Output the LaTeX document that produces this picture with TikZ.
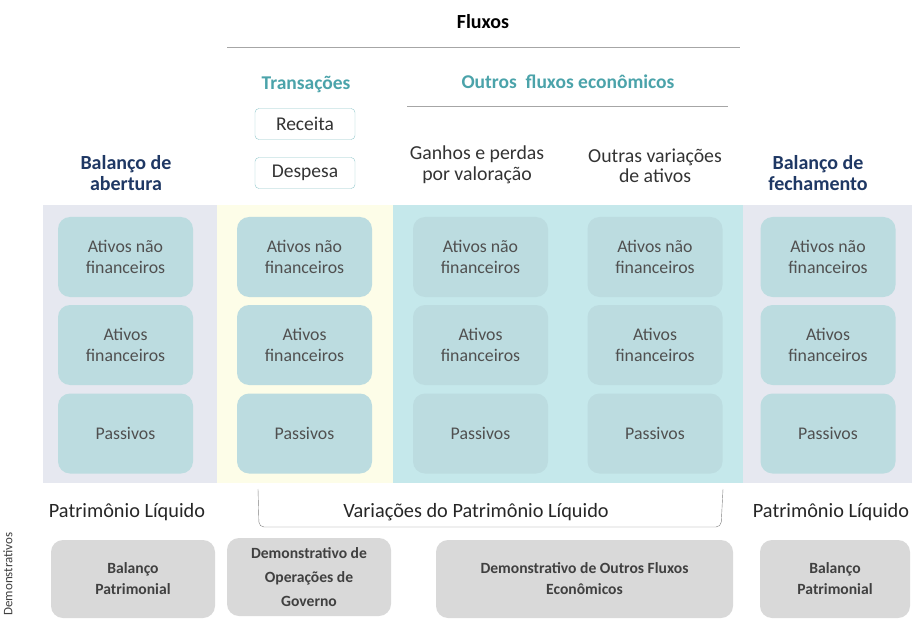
\documentclass[tikz,border=0pt]{standalone}
\usepackage{fontspec}
\setmainfont{Carlito}
\definecolor{bandgray}{HTML}{E6E8F0}
\definecolor{bandyel}{HTML}{FDFDE8}
\definecolor{bandcyan}{HTML}{C5E8EB}
\definecolor{boxfill}{HTML}{BCDCE0}
\definecolor{grayfill}{HTML}{D9D9D9}
\definecolor{navy}{HTML}{1F3864}
\definecolor{teal2}{HTML}{4BA3AA}
\definecolor{txt}{HTML}{505050}
\tikzset{
  acct/.style={fill=boxfill, rounded corners=12pt, minimum width=135pt, minimum height=80pt,
    text=txt, align=center, font=\fontsize{17.8}{21}\selectfont},
  demo/.style={fill=grayfill, rounded corners=12pt, minimum height=78pt,
    text=black!75, align=center, font=\fontsize{15.6}{21}\selectfont\bfseries},
  head/.style={text=navy, align=center, font=\fontsize{20}{21}\selectfont\bfseries},
  flow/.style={text=black!80, align=center, font=\fontsize{19.8}{20.5}\selectfont},
  trans/.style={draw=teal2!60, fill=white, rounded corners=4pt, minimum width=100pt,
    minimum height=31pt, text=black!80, font=\fontsize{19.5}{20}\selectfont},
  pl/.style={text=black!85, font=\fontsize{20.3}{22}\selectfont}
}
\begin{document}
\begin{tikzpicture}[x=1pt,y=-1pt]
                \useasboundingbox (0,0) rectangle (912,620);
                % bands
                \fill [bandgray] (43,205) rectangle (217,483) ;
                \fill [bandyel] (217,205) rectangle (393,483) ;
                \fill [bandcyan] (393,205) rectangle (743,483) ;
                \fill [bandgray] (743,205) rectangle (912,483) ;
                % titles
                \node [font=\fontsize{20}{20}\selectfont\bfseries] (fluxos) at (483,22) {Fluxos} ;
                \draw [gray!70, line width=1pt] (227,48) -- (740,48) ;
                \node [text=teal2, font=\fontsize{19.5}{20}\selectfont\bfseries] (transacoes) at (306,84) {Transações} ;
                \node [text=teal2, font=\fontsize{19.5}{20}\selectfont\bfseries] (outros) at (568,82) {Outros \ fluxos econômicos} ;
                \draw [gray!70, line width=1pt] (407,107) -- (728,107) ;
                \node [trans] (receita) at (305,124) {Receita} ;
                \node [trans] (despesa) at (305,173) {Despesa} ;
                \node [head] (abertura) at (126,173) {Balanço de\\abertura} ;
                \node [flow] (ganhos) at (477,165) {Ganhos e perdas\\por valoração} ;
                \node [flow] (variacoes) at (655,166) {Outras variações\\de ativos} ;
                \node [head] (fechamento) at (818,173) {Balanço de\\fechamento} ;
                % column 1
                \node [acct] (a1) at (125.5,257) {Ativos não\\financeiros} ;
                \node [acct] (a2) at (125.5,345) {Ativos\\financeiros} ;
                \node [acct] (a3) at (125.5,433.5) {Passivos} ;
                % column 2
                \node [acct] (b1) at (304.5,257) {Ativos não\\financeiros} ;
                \node [acct] (b2) at (304.5,345) {Ativos\\financeiros} ;
                \node [acct] (b3) at (304.5,433.5) {Passivos} ;
                % column 3
                \node [acct] (c1) at (480.5,257) {Ativos não\\financeiros} ;
                \node [acct] (c2) at (480.5,345) {Ativos\\financeiros} ;
                \node [acct] (c3) at (480.5,433.5) {Passivos} ;
                % column 4
                \node [acct] (d1) at (655,257) {Ativos não\\financeiros} ;
                \node [acct] (d2) at (655,345) {Ativos\\financeiros} ;
                \node [acct] (d3) at (655,433.5) {Passivos} ;
                % column 5
                \node [acct] (e1) at (828,257) {Ativos não\\financeiros} ;
                \node [acct] (e2) at (828,345) {Ativos\\financeiros} ;
                \node [acct] (e3) at (828,433.5) {Passivos} ;
                % patrimonio liquido
                \node [pl] (plopen) at (127,512) {Patrimônio Líquido} ;
                \node [pl] (plvar) at (476,512) {Variações do Patrimônio Líquido} ;
                \node [pl] (plclose) at (831,512) {Patrimônio Líquido} ;
                \coordinate (bracel) at (258,489) ;
                \coordinate (bracer) at (723,489) ;
                \draw [gray, rounded corners=5pt] (bracel) -- (259,527) -- (721,527) -- (bracer) ;
                % demonstrativos
                \node [rotate=90, text=black!75, font=\fontsize{13}{13}\selectfont] (demlabel) at (8,574) {Demonstrativos} ;
                \node [demo, minimum width=164pt] (bp1) at (133,579) {Balanço\\Patrimonial} ;
                \node [demo, minimum width=164pt, font=\fontsize{15.6}{24}\selectfont\bfseries] (dog) at (309,577) {Demonstrativo de\\Operações de\\Governo} ;
                \node [demo, minimum width=297pt] (dofe) at (584.5,579) {Demonstrativo de Outros Fluxos\\Econômicos} ;
                \node [demo, minimum width=150pt] (bp2) at (835,579) {Balanço\\Patrimonial} ;
            \end{tikzpicture}
\end{document}
